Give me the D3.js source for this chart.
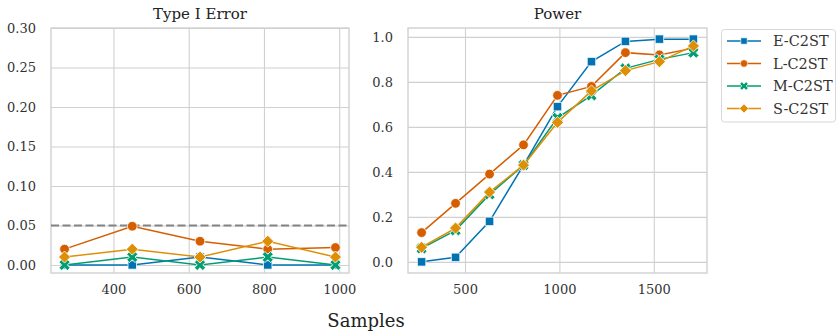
<!DOCTYPE html>
<html>
<head>
<meta charset="utf-8">
<script src="https://cdn.jsdelivr.net/npm/d3@7"></script>
<style>
  body { margin: 0; background: #fff; }
  svg text { font-family: "DejaVu Serif", serif; }
</style>
</head>
<body>
<svg id="chart"></svg>
<script>
/* data */
const methods = ["E-C2ST", "L-C2ST", "M-C2ST", "S-C2ST"];
const colors = ["#0173b2", "#d55e00", "#029e73", "#de8f05"];
const shapes = ["square", "circle", "x", "diamond"];

const errorSamples = [270, 450, 630, 810, 990];
const errorE = [0, 0, 0.01, 0, 0];
const errorL = [0.02, 0.049, 0.03, 0.02, 0.022];
const errorM = [0, 0.01, 0, 0.01, 0];
const errorS = [0.01, 0.02, 0.01, 0.03, 0.01];

const powerSamples = [270, 450, 630, 810, 990, 1170, 1350, 1530, 1710];
const powerE = [0.0, 0.02, 0.18, 0.43, 0.69, 0.89, 0.98, 0.99, 0.99];
const powerL = [0.13, 0.26, 0.39, 0.52, 0.74, 0.78, 0.93, 0.92, 0.95];
const powerM = [0.06, 0.14, 0.30, 0.43, 0.64, 0.74, 0.86, 0.90, 0.93];
const powerS = [0.065, 0.15, 0.31, 0.43, 0.62, 0.76, 0.85, 0.89, 0.96];

const errorTicksX = [400, 600, 800, 1000];
const errorTicksY = [0, 0.05, 0.10, 0.15, 0.20, 0.25, 0.30];
const powerTicksX = [500, 1000, 1500];
const powerTicksY = [0, 0.2, 0.4, 0.6, 0.8, 1.0];
const alpha = 0.05;

let width = 837;
let height = 335;
let gridColor = "#d0d0d0";

const svg = d3.select("#chart").attr("width", width).attr("height", height);

const markerPath = (shape, s) => {
    if (shape === "square") return d3.symbol(d3.symbolSquare, 72 * s * s)();
    if (shape === "circle") return d3.symbol(d3.symbolCircle, 74 * s * s)();
    if (shape === "x") return d3.symbol(d3.symbolCross, 78 * s * s)();
    let r = 6 * s;
    return "M0," + (-r) + "L" + r + ",0L0," + r + "L" + (-r) + ",0Z";
}

const drawPanel = (opt) => {
    let x = d3.scaleLinear().domain(opt.xDomain).range([opt.left, opt.right]);
    let y = d3.scaleLinear().domain(opt.yDomain).range([opt.bottom, opt.top]);
    let g = svg.append("g");

    // grid + tick labels
    let xAxis = d3.axisBottom(x).tickValues(opt.xTicks).tickFormat(d3.format("d"))
                  .tickSize(-(opt.bottom - opt.top)).tickPadding(9);
    let gx = g.append("g").attr("transform", "translate(0," + opt.bottom + ")").call(xAxis);
    let yAxis = d3.axisLeft(y).tickValues(opt.yTicks).tickFormat(d3.format(opt.yFormat))
                  .tickSize(-(opt.right - opt.left)).tickPadding(15);
    let gy = g.append("g").attr("transform", "translate(" + opt.left + ",0)").call(yAxis);
    [gx, gy].forEach(a => {
        a.attr("font-family", null);
        a.select(".domain").remove();
        a.selectAll(".tick line").attr("stroke", gridColor).attr("stroke-width", 1.1);
        a.selectAll(".tick text").attr("fill", "#333").style("font-size", "13px");
    });
    gx.selectAll(".tick text").attr("dy", "0.9em");

    // frame
    g.append("rect").attr("x", opt.left).attr("y", opt.top)
        .attr("width", opt.right - opt.left).attr("height", opt.bottom - opt.top)
        .attr("fill", "none").attr("stroke", gridColor).attr("stroke-width", 1.4);

    g.append("text").attr("x", (opt.left + opt.right) / 2).attr("y", 19)
        .attr("text-anchor", "middle").attr("fill", "#222")
        .style("font-size", "15px").text(opt.title);

    if (opt.hline !== undefined) {
        g.append("line").attr("x1", opt.left).attr("x2", opt.right)
            .attr("y1", y(opt.hline)).attr("y2", y(opt.hline))
            .attr("stroke", "#848484").attr("stroke-width", 2).attr("stroke-dasharray", "8,3.5");
    }

    let line = d3.line().x(d => x(d[0])).y(d => y(d[1]));
    opt.series.forEach((vals, i) => {
        let pts = opt.samples.map((s, j) => [s, vals[j]]);
        g.append("path").datum(pts).attr("d", line)
            .attr("fill", "none").attr("stroke", colors[i]).attr("stroke-width", 1.5);
        g.selectAll(".pt" + i).data(pts).enter().append("path")
            .attr("d", markerPath(shapes[i], 1))
            .attr("transform", d => "translate(" + x(d[0]) + "," + y(d[1]) + ")" + (shapes[i] === "x" ? " rotate(45)" : ""))
            .attr("fill", colors[i]).attr("stroke", "#fff").attr("stroke-width", 0.8);
    });
}

drawPanel({
    title: "Type I Error", left: 51, right: 349, top: 28, bottom: 273,
    xDomain: [234, 1026], yDomain: [-0.0102, 0.30],
    xTicks: errorTicksX, yTicks: errorTicksY, yFormat: ".2f",
    samples: errorSamples, series: [errorE, errorL, errorM, errorS], hline: alpha
});

drawPanel({
    title: "Power", left: 408, right: 707, top: 28, bottom: 273,
    xDomain: [198, 1782], yDomain: [-0.0495, 1.0395],
    xTicks: powerTicksX, yTicks: powerTicksY, yFormat: ".1f",
    samples: powerSamples, series: [powerE, powerL, powerM, powerS]
});

svg.append("text").attr("x", 366).attr("y", 327).attr("text-anchor", "middle")
    .attr("fill", "#222").style("font-size", "18px").text("Samples");

// legend
let legend = svg.append("g");
legend.append("rect").attr("x", 721.5).attr("y", 29.5).attr("width", 114).attr("height", 92.5)
    .attr("rx", 3).attr("fill", "#fff").attr("stroke", "#d8d8d8").attr("stroke-width", 1);
methods.forEach((m, i) => {
    let yy = 41 + i * 22.5;
    legend.append("line").attr("x1", 727).attr("x2", 761).attr("y1", yy).attr("y2", yy)
        .attr("stroke", colors[i]).attr("stroke-width", 1.5);
    legend.append("path").attr("d", markerPath(shapes[i], 0.75))
        .attr("transform", "translate(744," + yy + ")" + (shapes[i] === "x" ? " rotate(45)" : ""))
        .attr("fill", colors[i]).attr("stroke", "#fff").attr("stroke-width", 0.6);
    legend.append("text").attr("x", 773).attr("y", yy + 5).attr("fill", "#333")
        .style("font-size", "14.5px").text(m);
});
</script>
</body>
</html>
